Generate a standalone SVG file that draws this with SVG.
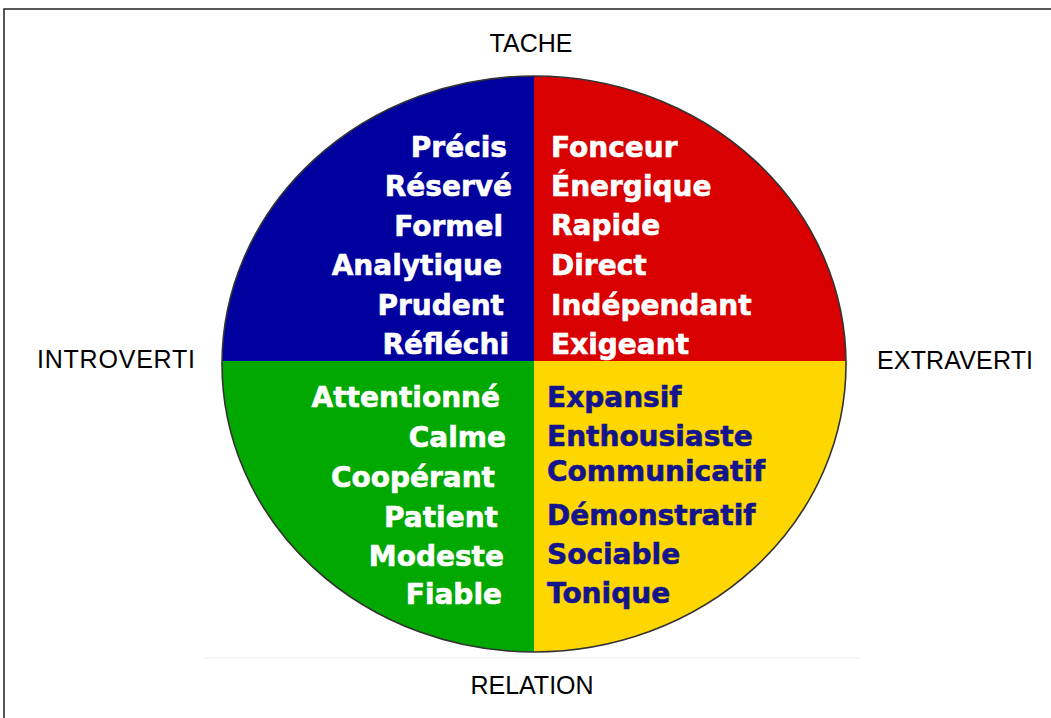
<svg xmlns="http://www.w3.org/2000/svg" width="1051" height="718" viewBox="0 0 1051 718">
<style>
.lbl{font-family:"Liberation Sans",Arial,sans-serif;font-size:25px;fill:#000}
.w{font-family:"DejaVu Sans",Verdana,sans-serif;font-weight:bold;font-size:28px;fill:#fff;stroke:#fff;stroke-width:0.6}
.b{font-family:"DejaVu Sans",Verdana,sans-serif;font-weight:bold;font-size:28px;fill:#14148c;stroke:#14148c;stroke-width:0.6}
</style>
<defs>
<clipPath id="ell"><ellipse cx="534" cy="364" rx="312" ry="288"/></clipPath>
</defs>
<rect x="0" y="0" width="1051" height="718" fill="#fff"/>
<rect x="4" y="9" width="1070" height="730" fill="none" stroke="#222" stroke-width="1.5"/>
<line x1="205" y1="658" x2="860" y2="658" stroke="#eee" stroke-width="1"/>
<g id="circle">
<g clip-path="url(#ell)">
<rect id="q-blue" x="200" y="60" width="334" height="301" fill="#00009f"/>
<rect id="q-red" x="534" y="60" width="330" height="301" fill="#d80000"/>
<rect id="q-green" x="200" y="361" width="334" height="300" fill="#00a800"/>
<rect id="q-yellow" x="534" y="361" width="330" height="300" fill="#ffd700"/>
</g>
<ellipse cx="534" cy="364" rx="312" ry="288" fill="none" stroke="#333" stroke-width="1.6"/>
</g>
<g id="blue-words" text-anchor="end">
<text class="w" x="507" y="157">Précis</text>
<text class="w" x="512" y="196">Réservé</text>
<text class="w" x="503" y="236">Formel</text>
<text class="w" x="502" y="275">Analytique</text>
<text class="w" x="504" y="315">Prudent</text>
<text class="w" x="509" y="354">Réfléchi</text>
</g>
<g id="red-words">
<text class="w" x="551" y="157">Fonceur</text>
<text class="w" x="551" y="196">Énergique</text>
<text class="w" x="551" y="235">Rapide</text>
<text class="w" x="551" y="275">Direct</text>
<text class="w" x="551" y="315">Indépendant</text>
<text class="w" x="551" y="354">Exigeant</text>
</g>
<g id="green-words" text-anchor="end">
<text class="w" x="500" y="407">Attentionné</text>
<text class="w" x="506" y="447">Calme</text>
<text class="w" x="495" y="487">Coopérant</text>
<text class="w" x="498" y="527">Patient</text>
<text class="w" x="504" y="566">Modeste</text>
<text class="w" x="502" y="604">Fiable</text>
</g>
<g id="yellow-words">
<text class="b" x="547" y="407">Expansif</text>
<text class="b" x="547" y="446">Enthousiaste</text>
<text class="b" x="547" y="481">Communicatif</text>
<text class="b" x="547" y="525">Démonstratif</text>
<text class="b" x="547" y="564">Sociable</text>
<text class="b" x="547" y="603">Tonique</text>
</g>
<g id="axis-labels">
<text id="tache" class="lbl" x="531" y="52" text-anchor="middle">TACHE</text>
<text id="relation" class="lbl" x="532" y="694" text-anchor="middle">RELATION</text>
<text id="introverti" class="lbl" x="37" y="368" textLength="158">INTROVERTI</text>
<text id="extraverti" class="lbl" x="877" y="369" textLength="156">EXTRAVERTI</text>
</g>
</svg>
